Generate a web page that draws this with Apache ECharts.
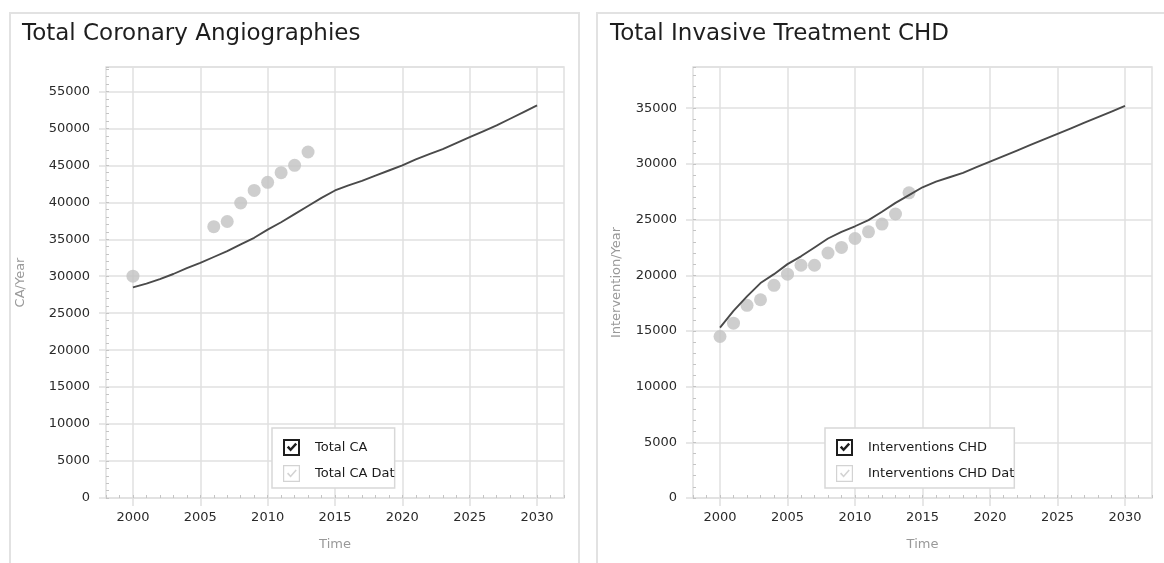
<!DOCTYPE html>
<html>
<head>
<meta charset="utf-8">
<title>Total Coronary Angiographies / Total Invasive Treatment CHD</title>
<script src="https://cdn.jsdelivr.net/npm/echarts@6/dist/echarts.min.js"></script>
<style>
html, body { margin: 0; padding: 0; background: #fff; }
#chart { width: 1164px; height: 563px; }
</style>
</head>
<body>
<div id="chart"></div>
<script>
// model years (simulation output is yearly)
const years = [2000, 2001, 2002, 2003, 2004, 2005, 2006, 2007, 2008, 2009, 2010,
  2011, 2012, 2013, 2014, 2015, 2016, 2017, 2018, 2019, 2020,
  2021, 2022, 2023, 2024, 2025, 2026, 2027, 2028, 2029, 2030]
const yearTicks = [2000, 2005, 2010, 2015, 2020, 2025, 2030]

// left panel: Total CA (model) and Total CA Data (observed)
const totalCA = [28500, 29000, 29600, 30300, 31100, 31800, 32600, 33400, 34300, 35200, 36300,
  37300, 38400, 39500, 40600, 41600, 42300, 42900, 43600, 44300, 45000,
  45800, 46500, 47200, 48000, 48800, 49600, 50400, 51300, 52200, 53100]
const caDataYears = [2000, 2006, 2007, 2008, 2009, 2010, 2011, 2012, 2013]
const caData = [30000, 36700, 37400, 39900, 41600, 42700, 44000, 45000, 46800]

// right panel: Interventions CHD (model) and Interventions CHD Data (observed)
const interventionsCHD = [15300, 16800, 18100, 19300, 20100, 21000, 21700, 22500, 23300, 23900, 24400,
  24950, 25700, 26500, 27200, 27900, 28400, 28800, 29200, 29700, 30200,
  30700, 31200, 31700, 32200, 32700, 33200, 33700, 34200, 34700, 35200]
const chdDataYears = [2000, 2001, 2002, 2003, 2004, 2005, 2006, 2007, 2008, 2009, 2010, 2011, 2012, 2013, 2014]
const chdData = [14500, 15700, 17300, 17800, 19100, 20100, 20900, 20900, 22000, 22500, 23300, 23900, 24600, 25500, 27400]

const FONT = "'DejaVu Sans', Verdana, sans-serif"
const GRID_COLOR = '#e0e0e0'
const TICK_COLOR = '#c4c4c4'

// checkbox icons for the legend
const checkOn = 'path://M0,0H17V17H0Z M2,2V15H15V2Z M3.8,8.6L5.7,6.8L7.6,9L12.3,3.8L14.1,5.5L7.6,12.6Z'
const checkOff = 'path://M0,0H17V17H0Z M1.2,1.2V15.8H15.8V1.2Z M4,8.8L5.2,7.6L7.6,10.2L12.6,4.4L13.8,5.5L7.6,12.4Z'

const plain = v => String(v)

function majorX(grid) {
  return {
    type: 'value', gridIndex: grid, min: 1998, max: 2032,
    name: 'Time', nameLocation: 'middle', nameGap: 40,
    nameTextStyle: { color: '#999', fontSize: 13 },
    axisLine: { show: false },
    axisTick: { show: true, length: 8, customValues: yearTicks, lineStyle: { color: GRID_COLOR, width: 1.5 } },
    axisLabel: { customValues: yearTicks, formatter: plain, color: '#2a2a2a', fontSize: 13, margin: 13 },
    splitLine: { show: true, lineStyle: { color: GRID_COLOR, width: 1.5 } }
  }
}
function minorX(grid) {
  return {
    type: 'value', gridIndex: grid, min: 1998, max: 2032, interval: 1, position: 'bottom',
    axisLine: { show: false }, axisLabel: { show: false }, splitLine: { show: false },
    axisTick: { show: true, inside: true, length: 3, lineStyle: { color: TICK_COLOR } }
  }
}
function majorY(grid, max, name, gap) {
  return {
    type: 'value', gridIndex: grid, min: 0, max: max, interval: 5000, position: 'left',
    name: name, nameLocation: 'middle', nameGap: gap,
    nameTextStyle: { color: '#999', fontSize: 13 },
    axisLine: { show: false },
    axisTick: { show: true, length: 7, lineStyle: { color: GRID_COLOR, width: 1.5 } },
    axisLabel: { formatter: v => (v % 5000 === 0 ? String(v) : ''), showMaxLabel: false, color: '#2a2a2a', fontSize: 13, margin: 16 },
    splitLine: { show: true, lineStyle: { color: GRID_COLOR, width: 1.5 } }
  }
}
function minorY(grid, max) {
  return {
    type: 'value', gridIndex: grid, min: 0, max: max, interval: 1000, position: 'left', offset: 0,
    axisLine: { show: false }, axisLabel: { show: false }, splitLine: { show: false },
    axisTick: { show: true, inside: true, length: 3, lineStyle: { color: TICK_COLOR } }
  }
}
function legendFor(left, names, textWidth) {
  return {
    left: left, top: 428, orient: 'vertical', selectedMode: false,
    padding: [11, 0, 6, 11], itemGap: 9, itemWidth: 37, itemHeight: 17,
    backgroundColor: '#fff', borderColor: '#d8d8d8', borderWidth: 1.5,
    textStyle: { color: '#1a1a1a', fontSize: 13, width: textWidth, overflow: 'truncate', ellipsis: '' },
    data: [
      { name: names[0], icon: checkOn, itemStyle: { color: '#1e1e1e', borderWidth: 0 } },
      { name: names[1], icon: checkOff, itemStyle: { color: '#c8c8c8', borderWidth: 0 } }
    ]
  }
}
const pairs = (xs, ys) => xs.map((x, i) => [x, ys[i]])

const option = {
  animation: false,
  backgroundColor: '#fff',
  textStyle: { fontFamily: FONT },
  graphic: [
    { type: 'rect', silent: true, shape: { x: 10, y: 13, width: 569, height: 600 }, style: { fill: 'none', stroke: '#e2e2e2', lineWidth: 2 } },
    { type: 'rect', silent: true, shape: { x: 597, y: 13, width: 600, height: 600 }, style: { fill: 'none', stroke: '#e2e2e2', lineWidth: 2 } }
  ],
  title: [
    { text: 'Total Coronary Angiographies', left: 22, top: 23, padding: 0, textStyle: { fontSize: 23, fontWeight: 'normal', color: '#1e1e1e' } },
    { text: 'Total Invasive Treatment CHD', left: 610, top: 23, padding: 0, textStyle: { fontSize: 23, fontWeight: 'normal', color: '#1e1e1e' } }
  ],
  legend: [
    legendFor(272, ['Total CA', 'Total CA Data'], 84),
    legendFor(825, ['Interventions CHD', 'Interventions CHD Data'], 150)
  ],
  grid: [
    { left: 106, top: 67, width: 458, height: 431, show: true, borderColor: GRID_COLOR, borderWidth: 1.5, outerBoundsMode: 'none' },
    { left: 693, top: 67, width: 459, height: 431, show: true, borderColor: GRID_COLOR, borderWidth: 1.5, outerBoundsMode: 'none' }
  ],
  xAxis: [majorX(0), minorX(0), majorX(1), minorX(1)],
  yAxis: [
    majorY(0, 58300, 'CA/Year', 79), minorY(0, 58300),
    majorY(1, 38700, 'Intervention/Year', 70), minorY(1, 38700)
  ],
  series: [
    {
      name: 'Total CA', type: 'line', xAxisIndex: 0, yAxisIndex: 0,
      data: pairs(years, totalCA), symbol: 'none', showSymbol: false,
      lineStyle: { color: '#4a4a4a', width: 1.9 }, itemStyle: { color: '#4a4a4a' }
    },
    {
      name: 'Total CA Data', type: 'scatter', xAxisIndex: 0, yAxisIndex: 0,
      data: pairs(caDataYears, caData), symbolSize: 13, itemStyle: { color: '#c2c2c2' }
    },
    {
      name: 'Interventions CHD', type: 'line', xAxisIndex: 2, yAxisIndex: 2,
      data: pairs(years, interventionsCHD), symbol: 'none', showSymbol: false,
      lineStyle: { color: '#4a4a4a', width: 1.9 }, itemStyle: { color: '#4a4a4a' }
    },
    {
      name: 'Interventions CHD Data', type: 'scatter', xAxisIndex: 2, yAxisIndex: 2,
      data: pairs(chdDataYears, chdData), symbolSize: 13, itemStyle: { color: '#c2c2c2' }
    }
  ]
}

const chart = echarts.init(document.getElementById('chart'))
chart.setOption(option)
window.addEventListener('resize', () => chart.resize())
</script>
</body>
</html>
